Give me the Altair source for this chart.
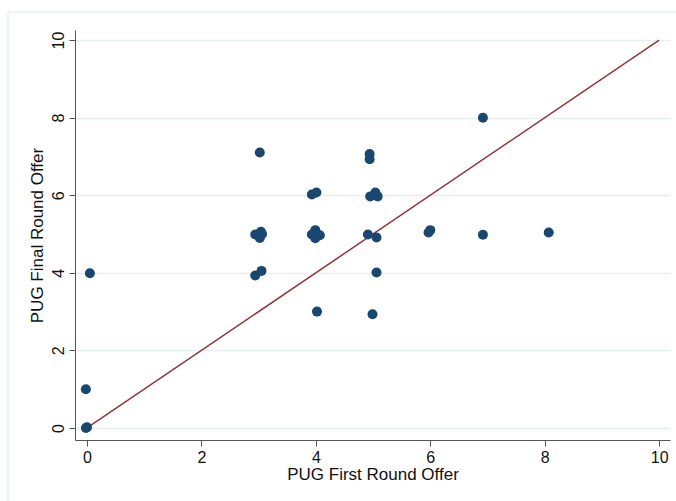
import altair as alt
import pandas as pd

first_round = [0.0, -0.02, 0.05, -0.02,
               3.02, 4.94, 4.94, 3.93, 4.01, 4.95, 5.04, 5.08,
               2.94, 3.04, 3.02, 3.06,
               3.93, 3.99, 4.07, 3.99,
               4.91, 5.06, 2.94, 3.05, 5.06, 4.02, 4.99,
               6.92, 5.97, 6.0, 6.92, 8.07]
final_round = [0.02, 1.0, 3.99, 0.0,
               7.1, 7.06, 6.93, 6.02, 6.07, 5.97, 6.07, 5.97,
               4.99, 5.06, 4.9, 5.0,
               4.99, 5.1, 4.97, 4.89,
               4.99, 4.91, 3.93, 4.05, 4.01, 3.0, 2.93,
               8.0, 5.04, 5.1, 4.98, 5.04]
line_x = [0, 10]
line_y = [0, 10]
ticks = [0, 2, 4, 6, 8, 10]

pts = pd.DataFrame({"x": first_round, "y": final_round})
ln = pd.DataFrame({"x": line_x, "y": line_y})

FONT = "Liberation Sans"
xscale = alt.Scale(domain=[-0.21, 10.19], nice=False, zero=False)
yscale = alt.Scale(domain=[-0.31, 10.26], nice=False, zero=False)

xaxis = alt.Axis(values=ticks, format="d", title="PUG First Round Offer", grid=False,
                 domainColor="#555555", tickColor="#555555", tickSize=6,
                 labelFont=FONT, labelFontSize=16, labelColor="#111111",
                 titleFont=FONT, titleFontSize=17, titleFontWeight="normal",
                 titleColor="#111111", labelPadding=3, titlePadding=1)
yaxis = alt.Axis(values=ticks, format="d", title="PUG Final Round Offer", grid=True,
                 gridColor="#E6EEF0", gridWidth=1.3,
                 domainColor="#555555", tickColor="#555555", tickSize=6,
                 labelFont=FONT, labelFontSize=16, labelColor="#111111",
                 labelAngle=-90, labelAlign="center", labelBaseline="bottom",
                 labelPadding=3,
                 titleFont=FONT, titleFontSize=17, titleFontWeight="normal",
                 titleColor="#111111", titlePadding=4)

points = alt.Chart(pts).mark_circle(size=100, opacity=1, color="#1A476F").encode(
    x=alt.X("x:Q", scale=xscale, axis=xaxis),
    y=alt.Y("y:Q", scale=yscale, axis=yaxis),
)
line = alt.Chart(ln).mark_line(color="#90353B", strokeWidth=1.5).encode(
    x=alt.X("x:Q", scale=xscale),
    y=alt.Y("y:Q", scale=yscale),
)
border = alt.Chart(pd.DataFrame({"a": [0]})).mark_rule(color="#E8F0F2", strokeWidth=1.5, clip=False).encode(
    x=alt.value(-67), y=alt.value(-18), y2=alt.value(480)
) + alt.Chart(pd.DataFrame({"a": [0]})).mark_rule(color="#E8F0F2", strokeWidth=1.5, clip=False).encode(
    x=alt.value(-67), x2=alt.value(610), y=alt.value(-18)
)

chart = alt.layer(border, line, points).properties(
    width=595, height=410,
    padding={"left": 75, "top": 30, "right": 6, "bottom": 61},
    autosize=alt.AutoSizeParams(type="none"),
    background="white",
).configure_view(stroke=None)

chart.save("out.html", embed_options={"renderer": "svg", "actions": False})
